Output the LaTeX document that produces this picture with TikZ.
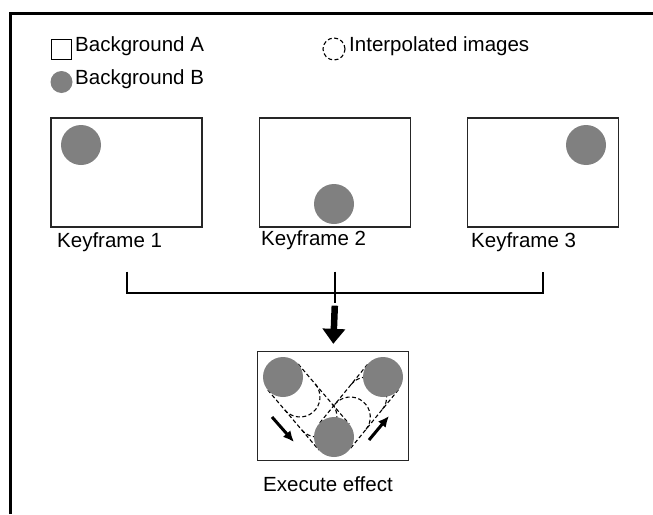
\documentclass[tikz,border=0pt]{standalone}
\usepackage{fontspec}
\setmainfont{Liberation Sans}
\usetikzlibrary{arrows.meta, positioning}
\definecolor{ballgray}{RGB}{128,128,128}
\tikzstyle{frame}=[draw=black!85,line width=1.3pt,rectangle,minimum width=151pt,minimum height=109pt,inner sep=0pt]
\tikzstyle{ball}=[fill=ballgray,circle,minimum size=40pt,inner sep=0pt]
\tikzstyle{ghost}=[dash pattern=on 4pt off 2.5pt,line width=1.1pt]
\tikzstyle{label}=[anchor=base west,inner sep=0pt]
\tikzstyle{every node}=[font=\fontsize{20.5}{24}\selectfont]

\begin{document}
\begin{tikzpicture}[x=1pt,y=-1pt,>=Latex]
  \useasboundingbox (0,0) rectangle (653,514);
  % outer frame (top and left only)
  \draw[line width=2.6pt,line join=miter] (10.3,514) -- (10.3,13.5) -- (653,13.5);

  % legend
  \node[draw,line width=1.2pt,minimum size=20pt,inner sep=0pt] (keyA) at (61.5,49.5) {};
  \node[label] (txtA) at (75,51) {Background A};
  \node[ball,minimum size=22pt] (keyB) at (61.5,82) {};
  \node[label] (txtB) at (75,84) {Background B};
  \node[draw,ghost,circle,minimum size=22pt,inner sep=0pt] (keyI) at (334,49) {};
  \node[label] (txtI) at (349,51) {Interpolated images};

  % keyframes
  \node[frame] (kf1) at (126.5,172.5) {};
  \node[frame,right=56pt of kf1] (kf2) {};
  \node[frame,right=56pt of kf2] (kf3) {};
  \node[ball] (b1) at (81,145) {};
  \node[ball] (b2) at (334,204) {};
  \node[ball] (b3) at (586,145) {};
  \node[label] (lbl1) at (57,247) {Keyframe 1};
  \node[label] (lbl2) at (261,245) {Keyframe 2};
  \node[label] (lbl3) at (471,247) {Keyframe 3};

  % bracket
  \coordinate (t1) at ([yshift=-44pt]kf1.south);
  \coordinate (t2) at ([yshift=-44pt]kf2.south);
  \coordinate (t3) at ([yshift=-44pt]kf3.south);
  \draw[line width=2pt] (t1) -- ++(0,21) -| (t3);
  \draw[line width=2pt] (t2) -- ++(0,31) coordinate (a0);

  % execute effect
  \node[frame] (fx) at (333,406) {};
  \draw[line width=6.5pt,-{Triangle[width=22pt,length=15pt]},shorten >=7pt] ([yshift=-3pt]a0) -- (fx.north);

  % interpolated path, left
  \draw[ghost] (298.2,364) -- (349.2,424);
  \draw[ghost] (267.8,390) -- (318.8,450);
  \draw[ghost] (300,397) ++(-40:20) arc[start angle=-40,end angle=140,radius=20];
  \draw[ghost] (317,417) ++(-40:20) arc[start angle=-40,end angle=140,radius=20];
  % interpolated path, right
  \draw[ghost] (367.5,364.4) -- (318.5,424.4);
  \draw[ghost] (398.5,389.6) -- (349.5,449.6);
  \draw[ghost] (350.3,417) ++(-141:20) arc[start angle=-141,end angle=39,radius=20];
  \draw[ghost] (366.7,397) ++(-141:20) arc[start angle=-141,end angle=39,radius=20];

  \node[ball] (e1) at (283,377) {};
  \node[ball] (e2) at (383,377) {};
  \node[ball] (e3) at (334,437) {};

  % motion arrows
  \coordinate (m1) at (272,417);
  \coordinate (m2) at (294,442);
  \coordinate (m3) at (369,440);
  \coordinate (m4) at (389,416);
  \draw[line width=3pt,-{Latex[length=11pt,width=10pt]}] (m1) -- (m2);
  \draw[line width=3pt,-{Latex[length=11pt,width=10pt]}] (m3) -- (m4);

  \node[label] (fxlbl) at (263,491) {Execute effect};
\end{tikzpicture}
\end{document}
